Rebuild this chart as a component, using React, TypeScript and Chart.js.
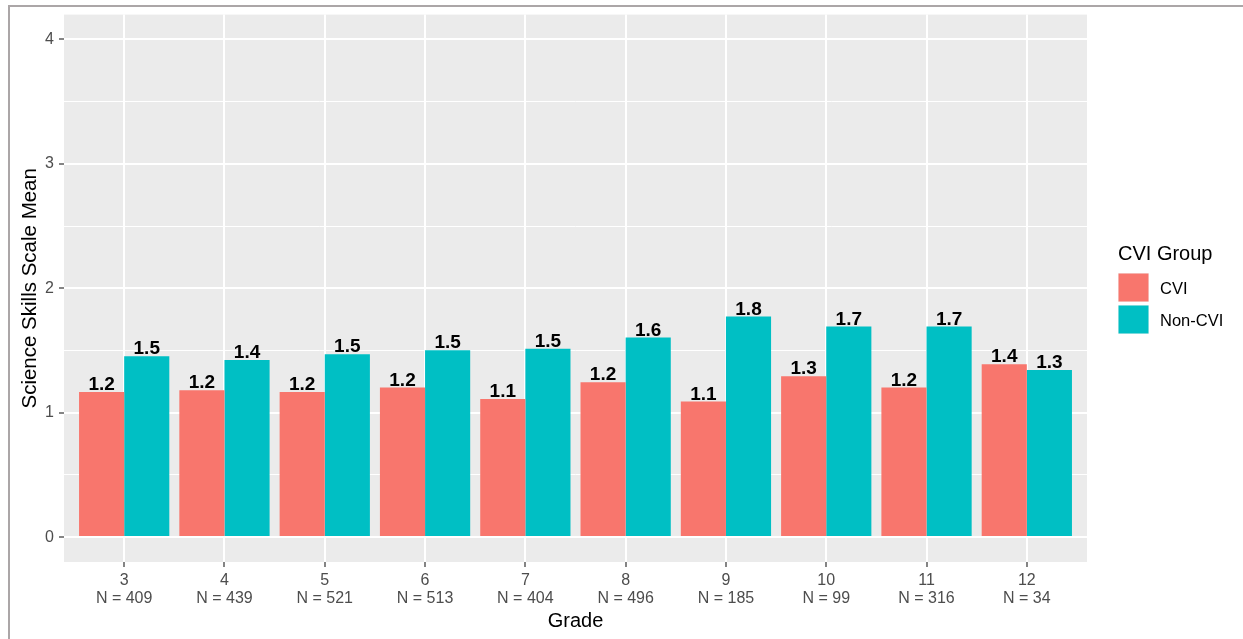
import React, { useEffect, useRef } from 'react';
import { Chart, registerables } from 'chart.js';

Chart.register(...registerables);

const grades = ['3', '4', '5', '6', '7', '8', '9', '10', '11', '12'];
const counts = [409, 439, 521, 513, 404, 496, 185, 99, 316, 34];
const cviMeans = [1.167, 1.18, 1.167, 1.202, 1.111, 1.245, 1.09, 1.293, 1.202, 1.39];
const nonCviMeans = [1.454, 1.424, 1.47, 1.502, 1.515, 1.604, 1.773, 1.692, 1.692, 1.344];
const yTickValues = [0, 0.5, 1, 1.5, 2, 2.5, 3, 3.5, 4];
const groupNames = ['CVI', 'Non-CVI'];
const groupColors = ['#F8766D', '#00BFC4'];
const legendTitle = 'CVI Group';
const xTitle = 'Grade';
const yTitle = 'Science Skills Scale Mean';

const FONT = "'Liberation Sans', Arial, Helvetica, sans-serif";

const bgPlugin = {
  id: 'ggBackground',
  beforeDraw(chart: any) {
    const { ctx, chartArea, width, height } = chart;
    ctx.save();
    ctx.fillStyle = '#FFFFFF';
    ctx.fillRect(0, 0, width, height);
    ctx.fillStyle = '#EBEBEB';
    ctx.fillRect(chartArea.left, chartArea.top, chartArea.right - chartArea.left, chartArea.bottom - chartArea.top);
    ctx.strokeStyle = '#ABA6A7';
    ctx.lineWidth = 2;
    ctx.beginPath();
    ctx.moveTo(8, 6);
    ctx.lineTo(width, 6);
    ctx.moveTo(9, 5);
    ctx.lineTo(9, height);
    ctx.stroke();
    ctx.restore();
  },
};

const valueLabelPlugin = {
  id: 'valueLabels',
  afterDatasetsDraw(chart: any) {
    const { ctx } = chart;
    ctx.save();
    ctx.font = `bold 19px ${FONT}`;
    ctx.fillStyle = '#000000';
    ctx.textAlign = 'center';
    ctx.textBaseline = 'alphabetic';
    chart.data.datasets.forEach((ds: any, di: number) => {
      const meta = chart.getDatasetMeta(di);
      meta.data.forEach((el: any, i: number) => {
        const v = ds.data[i].y;
        ctx.fillText(v.toFixed(1), el.x, el.y - 2);
      });
    });
    ctx.restore();
  },
};

const legendPlugin = {
  id: 'ggLegend',
  afterDraw(chart: any) {
    const { ctx } = chart;
    const x0 = chart.chartArea.right + 31;
    ctx.save();
    ctx.fillStyle = '#000000';
    ctx.font = `20px ${FONT}`;
    ctx.textAlign = 'left';
    ctx.textBaseline = 'alphabetic';
    ctx.fillText(legendTitle, x0, 260);
    chart.data.datasets.forEach((ds: any, i: number) => {
      const top = 273 + i * 32;
      ctx.fillStyle = '#F2F2F2';
      ctx.fillRect(x0, top, 31, 29);
      ctx.fillStyle = ds.backgroundColor;
      ctx.fillRect(x0 + 0.5, top + 0.5, 30, 28);
      ctx.fillStyle = '#000000';
      ctx.font = `16.5px ${FONT}`;
      ctx.textBaseline = 'middle';
      ctx.fillText(ds.label, x0 + 42, top + 16);
    });
    ctx.restore();
  },
};

export default function App() {
  const ref = useRef<HTMLCanvasElement | null>(null);

  useEffect(() => {
    if (!ref.current) return;
    const datasets = [cviMeans, nonCviMeans].map((vals, k) => ({
      label: groupNames[k],
      data: vals.map((v, i) => ({ x: i, y: v })),
      backgroundColor: groupColors[k],
      borderWidth: 0,
      categoryPercentage: 0.9,
      barPercentage: 1.0,
    }));

    const chart = new Chart(ref.current, {
      type: 'bar',
      data: { datasets },
      plugins: [bgPlugin, valueLabelPlugin, legendPlugin],
      options: {
        animation: false,
        responsive: false,
        maintainAspectRatio: false,
        devicePixelRatio: 1,
        layout: { padding: { top: 13, right: 156, left: 0, bottom: 0 } },
        plugins: {
          legend: { display: false },
          tooltip: { enabled: false },
        },
        scales: {
          x: {
            type: 'linear',
            min: -0.6,
            max: 9.6,
            offset: false,
            grid: {
              offset: false,
              color: '#FFFFFF',
              lineWidth: 2,
              drawTicks: true,
              tickLength: 5,
              tickColor: '#333333',
              tickWidth: 1.2,
            },
            border: { display: false },
            afterBuildTicks: (scale: any) => {
              scale.ticks = grades.map((_, i) => ({ value: i }));
            },
            afterFit: (scale: any) => {
              scale.height = 77;
            },
            ticks: {
              autoSkip: false,
              maxRotation: 0,
              minRotation: 0,
              padding: 4,
              color: '#4D4D4D',
              font: { family: FONT, size: 16, lineHeight: 1.15 },
              callback: (value: any) => {
                const i = Math.round(Number(value));
                return [grades[i], `N = ${counts[i]}`];
              },
            },
            title: {
              display: true,
              text: xTitle,
              color: '#000000',
              font: { family: FONT, size: 20, lineHeight: 1.2 },
              padding: { top: 0, bottom: 6 },
            },
          },
          y: {
            type: 'linear',
            min: -0.2,
            max: 4.2,
            grid: {
              color: '#FFFFFF',
              lineWidth: (ctx: any) => (Number.isInteger(ctx.tick?.value) ? 2 : 1),
              drawTicks: true,
              tickLength: 5,
              tickWidth: 1.2,
              tickColor: (ctx: any) => (Number.isInteger(ctx.tick?.value) ? '#333333' : 'rgba(0,0,0,0)'),
            },
            border: { display: false },
            afterBuildTicks: (scale: any) => {
              scale.ticks = yTickValues.map((v) => ({ value: v }));
            },
            afterFit: (scale: any) => {
              scale.width = 64;
            },
            ticks: {
              autoSkip: false,
              padding: 5,
              color: '#4D4D4D',
              font: { family: FONT, size: 16 },
              callback: (value: any) => (Number.isInteger(Number(value)) ? String(value) : ''),
            },
            title: {
              display: true,
              text: yTitle,
              color: '#000000',
              font: { family: FONT, size: 20.5, lineHeight: 1.2 },
              padding: { top: 18, bottom: 0 },
            },
          },
        },
      } as any,
    });
    return () => chart.destroy();
  }, []);

  return (
    <div style={{ position: 'fixed', left: 0, top: 0, width: 1243, height: 639, background: '#fff' }}>
      <canvas ref={ref} width={1243} height={639} style={{ display: 'block', width: 1243, height: 639 }} />
    </div>
  );
}
